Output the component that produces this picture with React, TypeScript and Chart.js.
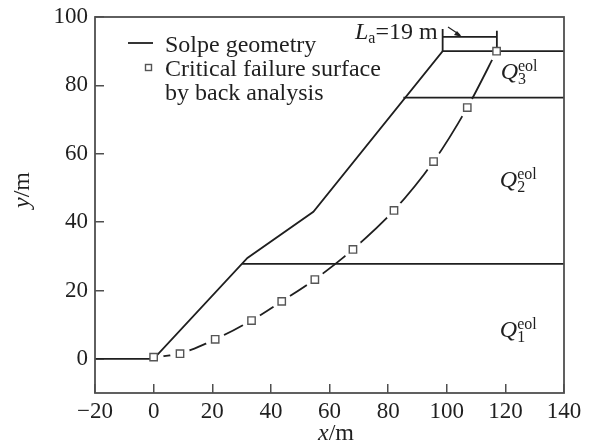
import React, { useEffect, useRef } from "react";
import { Chart, registerables } from "chart.js";

Chart.register(...registerables);

const slopeX = [-20, 0, 32, 54.5, 98.6, 140];
const slopeY = [0, 0, 29.5, 43, 90, 90];
const surfaceX = [0, 9, 21, 33.4, 43.7, 55, 68, 82, 95.5, 107, 117];
const surfaceY = [0.5, 1.5, 5.7, 11.2, 16.8, 23.2, 32, 43.4, 57.7, 73.5, 90];
const layerStartX = [30.2, 85.2];
const layerY = [27.8, 76.4];
const bracketX = [98.6, 117.1];
const bracketY = 94.2;
const bracketTop = [96.5, 96];
const xTicks = [-20, 0, 20, 40, 60, 80, 100, 120, 140];
const yTicks = [0, 20, 40, 60, 80, 100];

const INK = "#1f1f1f";
const AXIS = "#4f4f4f";
const FONT = "'Liberation Serif'";
const pts = (xs: number[], ys: number[]) => xs.map((x, i) => ({ x, y: ys[i] }));

const annotations = {
  id: "annotations",
  afterDatasetsDraw(chart: any) {
    const { ctx, chartArea: a, scales } = chart;
    const X = scales.x, Y = scales.y;
    ctx.save();
    ctx.strokeStyle = AXIS;
    ctx.lineWidth = 1.8;
    ctx.strokeRect(a.left, a.top, a.right - a.left, a.bottom - a.top);

    // legend
    ctx.strokeStyle = INK;
    ctx.lineWidth = 1.8;
    ctx.beginPath(); ctx.moveTo(128, 43); ctx.lineTo(153, 43); ctx.stroke();
    ctx.strokeStyle = "#555";
    ctx.lineWidth = 1.4;
    ctx.fillStyle = "#fff";
    ctx.fillRect(145.5, 64.5, 6, 6);
    ctx.strokeRect(145.5, 64.5, 6, 6);

    ctx.fillStyle = INK;
    ctx.textBaseline = "alphabetic";
    ctx.textAlign = "left";
    ctx.font = `24px ${FONT}`;
    ctx.fillText("Solpe geometry", 165, 52);
    ctx.fillText("Critical failure surface", 165, 76);
    ctx.fillText("by back analysis", 165, 100);

    const mixed = (x: number, y: number, parts: [string, string, number][]) => {
      let cx = x;
      for (const [t, f, dy] of parts) {
        ctx.font = f;
        ctx.fillText(t, cx, y + dy);
        cx += ctx.measureText(t).width;
      }
    };
    const it = `italic 24px ${FONT}`;
    const rm = `24px ${FONT}`;
    const sm = `16px ${FONT}`;
    const q = (x: number, y: number, n: string) => {
      ctx.font = it;
      ctx.fillText("Q", x, y);
      const w = ctx.measureText("Q").width;
      ctx.font = sm;
      ctx.fillText(n, x + w, y + 5.5);
      ctx.fillText("eol", x + w, y - 8);
    };
    q(X.getPixelForValue(118.4), Y.getPixelForValue(81.9), "3");
    q(X.getPixelForValue(118.1), Y.getPixelForValue(50.3), "2");
    q(X.getPixelForValue(118.1), Y.getPixelForValue(6.4), "1");

    mixed(355, 39, [["L", it, 0], ["a", sm, 4], ["=19 m", rm, 0]]);
    mixed(318, 440, [["x", it, 0], ["/m", rm, 0]]);

    ctx.save();
    ctx.translate(29, 208);
    ctx.rotate(-Math.PI / 2);
    mixed(0, 0, [["y", it, 0], ["/m", rm, 0]]);
    ctx.restore();

    // arrow toward the width bracket
    ctx.strokeStyle = INK;
    ctx.fillStyle = INK;
    ctx.lineWidth = 1.2;
    ctx.beginPath(); ctx.moveTo(448, 27); ctx.lineTo(460, 35); ctx.stroke();
    ctx.beginPath(); ctx.moveTo(462, 37); ctx.lineTo(454, 35); ctx.lineTo(457, 31); ctx.closePath(); ctx.fill();
    ctx.restore();
  },
};

export default function App() {
  const ref = useRef<HTMLCanvasElement>(null);
  useEffect(() => {
    const line = (data: any[], extra: any = {}) => ({
      type: "line", data, borderColor: INK, borderWidth: 1.8, pointRadius: 0, fill: false, ...extra,
    });
    const chart = new Chart(ref.current!, {
      type: "line",
      data: {
        datasets: [
          line(pts(surfaceX, surfaceY), { tension: 0.3, order: 6 }),
          line(pts(surfaceX, surfaceY), {
            showLine: false, order: 5, pointStyle: "circle", pointRadius: 10,
            pointBackgroundColor: "#fff", pointBorderWidth: 0,
          }),
          line(pts(slopeX, slopeY), { order: 4 }),
          line(pts([layerStartX[0], 140], [layerY[0], layerY[0]]), { order: 3 }),
          line(pts([layerStartX[1], 140], [layerY[1], layerY[1]]), { order: 3 }),
          line(pts([bracketX[0], bracketX[0], bracketX[0], bracketX[1], bracketX[1], bracketX[1]],
            [90, bracketTop[0], bracketY, bracketY, bracketTop[1], 90]), { order: 3 }),
          line(pts(surfaceX, surfaceY), {
            showLine: false, order: 1, pointStyle: "rect", pointRadius: 5.2,
            pointBackgroundColor: "#fff", pointBorderColor: "#555", pointBorderWidth: 1.4,
          }),
        ] as any,
      },
      options: {
        animation: false,
        responsive: false,
        parsing: false as any,
        layout: { padding: { top: 17, right: 26, left: 0, bottom: 0 } },
        plugins: { legend: { display: false }, tooltip: { enabled: false } },
        scales: {
          x: {
            type: "linear", min: -20, max: 140,
            afterFit: (s: any) => { s.height = 50; s.paddingLeft = 0; s.paddingRight = 0; },
            afterBuildTicks: (s: any) => { s.ticks = xTicks.map((value) => ({ value })); },
            grid: { drawOnChartArea: false, drawTicks: true, tickLength: -9, color: AXIS, lineWidth: 1.5 },
            border: { display: false },
            ticks: {
              color: INK, font: { family: FONT, size: 23 }, padding: 14, maxRotation: 0, autoSkip: false,
              callback: (v: any) => String(v).replace("-", "\u2212"),
            },
          },
          y: {
            type: "linear", min: -10, max: 100,
            afterFit: (s: any) => { s.width = 95; s.paddingTop = 0; s.paddingBottom = 0; },
            afterBuildTicks: (s: any) => { s.ticks = yTicks.map((value) => ({ value })); },
            grid: { drawOnChartArea: false, drawTicks: true, tickLength: -9, color: AXIS, lineWidth: 1.5 },
            border: { display: false },
            ticks: {
              color: INK, font: { family: FONT, size: 23 }, padding: 16, autoSkip: false,
            },
          },
        },
      } as any,
      plugins: [annotations],
    } as any);
    return () => chart.destroy();
  }, []);
  return <canvas ref={ref} width={590} height={443} style={{ position: "absolute", left: 0, top: 0 }} />;
}
